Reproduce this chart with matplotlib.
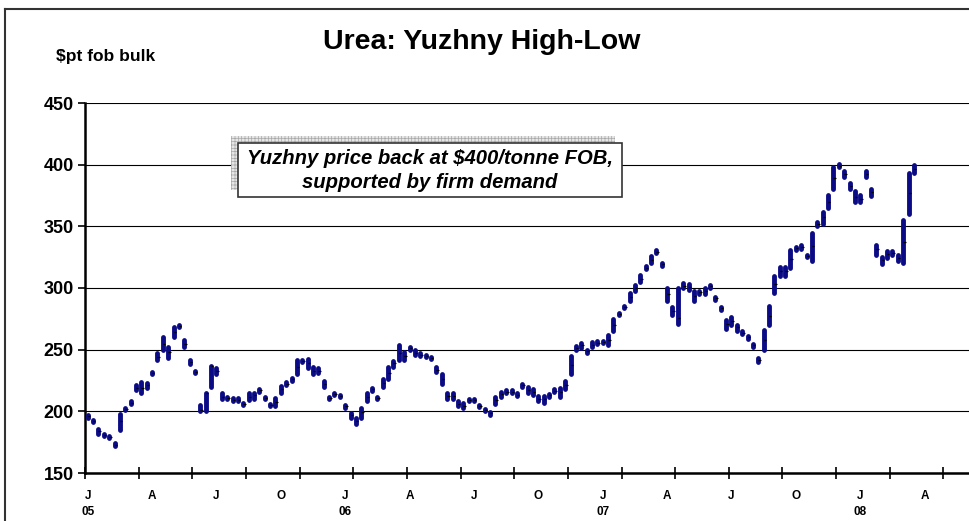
import matplotlib
matplotlib.use('Agg')
import matplotlib.pyplot as plt
from matplotlib.patches import Rectangle
from matplotlib.lines import Line2D
import numpy as np

plt.rcParams['font.family'] = ['Liberation Sans', 'DejaVu Sans']
plt.rcParams['hatch.linewidth'] = 0.5

# ---- data (weekly high / low / close, $/t fob bulk) ----
high = [197, 193, 186, 182, 180, 174, 198, 203, 208, 221,
        224, 223, 232, 247, 260, 252, 268, 270, 258, 242,
        233, 205, 215, 237, 235, 215, 212, 210.5, 211, 207,
        215, 215, 218, 212, 206, 210.5, 220.5, 224, 227, 241.5,
        242, 242.5, 236, 235, 224.5, 212, 215, 213.5, 205, 198.5,
        195, 203, 215, 219, 212, 226.3, 235.8, 241.2, 253.9, 248,
        252, 249.6, 247, 245.7, 244.3, 235.8, 230.6, 214.9, 214.9, 208,
        206.8, 210, 210, 205.3, 202, 199.5, 211.9, 215.7, 217, 217,
        214.5, 222, 219.6, 218, 212.6, 212.6, 214, 218, 218.6, 224.5,
        245.1, 253, 255.1, 250, 256, 256.7, 257.4, 261.9, 275, 280,
        285.7, 295.8, 302.8, 310.2, 318, 326.1, 330.5, 320.2, 300, 284.6,
        300.3, 304, 303.3, 297.6, 297.6, 300.3, 302.5, 292.8, 284.8, 274.3,
        276.7, 269.9, 265, 261.4, 254.6, 243, 265.6, 285.4, 310, 317,
        317, 331.2, 333.3, 334.5, 327, 345, 353.7, 362, 375.3, 398,
        400.2, 395.1, 385.4, 378.3, 375.3, 395.1, 380.2, 335.2, 325.2, 330.4,
        330.4, 326.6, 355, 393, 400]
low = [195, 191, 182, 180, 178, 172, 185, 201, 206, 217,
       215, 219, 230, 242, 250, 243, 260, 268, 252, 238,
       231, 200, 200, 220, 230, 210, 210, 208, 208, 205,
       209, 210, 216, 210, 204.5, 204, 215, 221, 225, 230,
       240, 235, 230, 231, 220, 210, 213, 211.5, 203, 195,
       190, 195, 208, 216.5, 210, 219.5, 226, 235.8, 241.5, 241.5,
       250, 245.8, 245, 243.7, 242.5, 232, 222.2, 210, 210, 204.5,
       202.4, 208, 208, 203.3, 200, 197.3, 206.2, 211.4, 215, 215,
       212.3, 220, 214.8, 212.9, 208, 207, 212, 215.5, 212, 218,
       230, 250, 251.6, 247.3, 252, 254.7, 255.6, 253.8, 265.2, 278,
       283.7, 289.8, 297.7, 304.7, 315.5, 319.9, 328.5, 318.2, 289.7, 278,
       270.7, 300, 298, 289.7, 295.4, 295.1, 300.3, 290.4, 282.2, 266.7,
       269.9, 265, 262.4, 258.4, 252.2, 240.4, 249.9, 270.2, 296.2, 310,
       310, 316, 331.1, 332, 325, 322, 349.9, 351.8, 364.8, 380,
       398.2, 389.7, 379.9, 369.6, 369.6, 389.7, 374.8, 326.8, 319.8, 324.7,
       326.8, 322, 320, 359.9, 393]
close = [196, 192, 184, 181, 179, 173, 192, 202, 207, 219,
         219, 221, 231, 244, 255, 248, 264, 269, 255, 240,
         232, 201, 215, 237, 233, 212, 211, 209, 209.5, 206,
         212, 213, 217, 211, 205.5, 207.5, 218, 222.5, 226, 236,
         241, 239, 233, 233, 222.5, 211, 214, 212.5, 204, 196.7,
         192.5, 199.7, 211.6, 217.8, 211, 223, 231.4, 238.8, 247.7, 245,
         251, 247.7, 245.8, 244.7, 243.4, 233.9, 226.5, 212.2, 212.2, 206.2,
         204.6, 209, 209, 204.3, 201, 198.4, 209.5, 213.8, 216, 216,
         213.4, 221, 217.5, 215.9, 210.2, 210.2, 213.1, 216.7, 215.3, 221.5,
         237.5, 251.4, 253.5, 248.6, 254, 255.7, 256.5, 258, 270, 279,
         284.7, 292.8, 300.4, 307.7, 316.6, 323, 329.5, 319.2, 295.4, 281.3,
         275.3, 302, 300.5, 293.8, 296.5, 297.6, 301.4, 291.6, 283.5, 270.5,
         273.4, 268, 263.7, 259.9, 253.4, 241.7, 258, 277.5, 303.5, 313.6,
         313.5, 323.8, 332.2, 333.3, 326, 333.9, 351.8, 357.2, 369.9, 389.2,
         399.2, 392.7, 382.7, 374, 372.4, 392.7, 377.8, 331.4, 322.8, 327.4,
         328.2, 324.4, 337.7, 377, 396.7]

quarter_labels = ['J\n05', 'A', 'J', 'O', 'J\n06', 'A', 'J', 'O',
                  'J\n07', 'A', 'J', 'O', 'J\n08', 'A']
label_step = 12      # categories between quarter labels
tick_step = 10       # categories between axis tick marks
yticks = [150, 200, 250, 300, 350, 400, 450]

title = 'Urea: Yuzhny High-Low'
unit_label = r'\$pt fob bulk'
note_lines = [r'Yuzhny price back at \$400/tonne FOB,', 'supported by firm demand']

# ---- figure ----
W, H = 969, 521
fig = plt.figure(figsize=(W / 100, H / 100), dpi=100)
fig.patch.set_facecolor('white')
px_per_cat = 5.365
ax = fig.add_axes([85 / W, 1 - 473 / H, (W - 85) / W, (473 - 103) / H])

x = np.arange(len(high))
bars = ax.vlines(x, low, high, colors='#0b0b86', lw=3.5, zorder=3)
bars.set_capstyle('round')
ax.hlines(close, x, x + 0.45, colors='black', lw=0.9, zorder=4)

ax.set_ylim(yticks[0], yticks[-1])
ax.set_xlim(-0.5, -0.5 + (W - 85) / px_per_cat)

ax.set_yticks(yticks)
ax.set_yticklabels([str(v) for v in yticks], fontsize=13, fontweight='bold')
ax.tick_params(axis='y', length=5, width=1.2, direction='out', pad=3, colors='black')
ax.yaxis.grid(True, color='black', lw=0.8)
ax.set_axisbelow(True)

lab_pos = [i * label_step for i in range(len(quarter_labels))]
ax.set_xticks(lab_pos)
ax.set_xticklabels(quarter_labels, fontsize=8.5, fontweight='bold', linespacing=1.45)
ax.tick_params(axis='x', which='major', length=0, pad=12)
ax.set_xticks([-0.5 + k * tick_step for k in range(17)], minor=True)
ax.tick_params(axis='x', which='minor', length=8, width=1.2, direction='inout')

for s in ['top', 'right']:
    ax.spines[s].set_visible(False)
for s in ['left', 'bottom']:
    ax.spines[s].set_linewidth(1.8)
    ax.spines[s].set_color('black')

# titles
fig.text(482 / W, 1 - 42 / H, title, ha='center', va='center',
         fontsize=20.5, fontweight='bold')
fig.text(56 / W, 1 - 56 / H, unit_label, ha='left', va='center',
         fontsize=12.5, fontweight='bold')

# annotation box with hatched shadow
shadow = Rectangle((231 / W, 1 - 190 / H), 384 / W, 54 / H, transform=fig.transFigure,
                   facecolor='#e6e6e6', edgecolor='#a8a8a8', hatch='+++++', lw=0, zorder=2)
fig.add_artist(shadow)
box = Rectangle((238 / W, 1 - 197 / H), 384 / W, 54 / H, transform=fig.transFigure,
                facecolor='white', edgecolor='#333333', lw=1.2, zorder=3)
fig.add_artist(box)
fig.text(430 / W, 1 - 158 / H, note_lines[0], ha='center', va='center', fontsize=14.6,
         fontweight='bold', fontstyle='italic', zorder=4)
fig.text(430 / W, 1 - 183 / H, note_lines[1], ha='center', va='center', fontsize=14.6,
         fontweight='bold', fontstyle='italic', zorder=4)

# outer chart frame
fig.add_artist(Line2D([5 / W, 5 / W], [0, 1 - 9 / H], transform=fig.transFigure,
                      color='#333333', lw=1.5))
fig.add_artist(Line2D([5 / W, 1], [1 - 9 / H, 1 - 9 / H], transform=fig.transFigure,
                      color='#333333', lw=1.5))

fig.savefig('out.png', dpi=100)
